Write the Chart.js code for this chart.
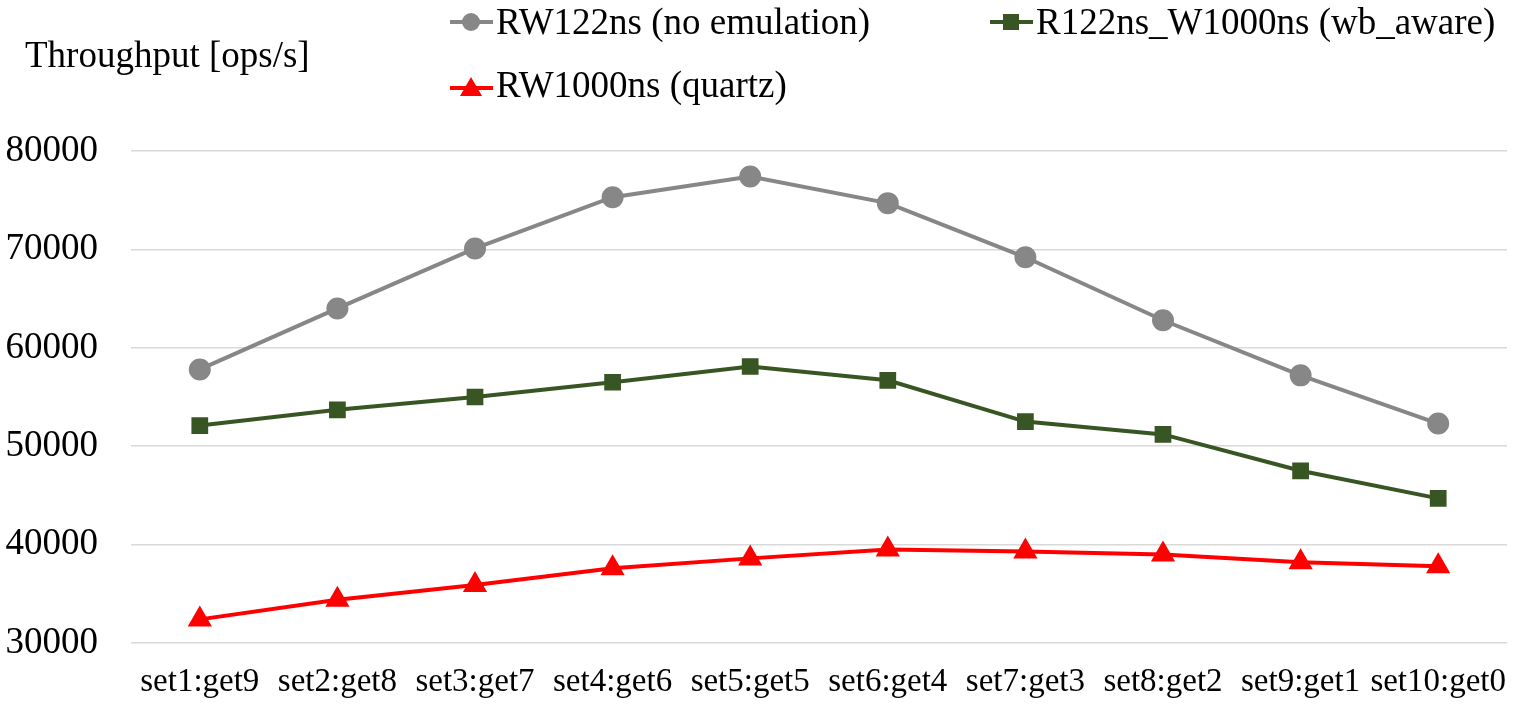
<!DOCTYPE html>
<html>
<head>
<meta charset="utf-8">
<script src="https://cdn.jsdelivr.net/npm/chart.js@4/dist/chart.umd.min.js"></script>
<style>
html,body{margin:0;padding:0;background:#fff;}
#wrap{width:1521px;height:708px;}
</style>
</head>
<body>
<div id="wrap"><canvas id="c" width="1521" height="708"></canvas></div>
<script>
const categories = ["set1:get9","set2:get8","set3:get7","set4:get6","set5:get5","set6:get4","set7:get3","set8:get2","set9:get1","set10:get0"];
const rwNoEmulation = [57800, 64000, 70100, 75300, 77400, 74700, 69200, 62800, 57200, 52300];
const wbAware = [52100, 53700, 55000, 56500, 58100, 56700, 52500, 51200, 47500, 44700];
const quartz = [32400, 34400, 35900, 37600, 38600, 39500, 39300, 39000, 38200, 37800];
const seriesNames = ["RW122ns (no emulation)", "R122ns_W1000ns (wb_aware)", "RW1000ns (quartz)"];
const yTicks = [30000, 40000, 50000, 60000, 70000, 80000];
const yTitle = "Throughput [ops/s]";

const FONT = "'Liberation Serif', 'Times New Roman', serif";

const legendPlugin = {
  id: 'customLegend',
  afterDraw(chart) {
    const ctx = chart.ctx;
    ctx.save();
    ctx.fillStyle = '#000';
    ctx.font = '37px ' + FONT;
    ctx.textBaseline = 'alphabetic';
    ctx.textAlign = 'left';
    ctx.fillText(yTitle, 25, 67);
    const items = [
      {ds: 0, x: 450, y: 22, base: 34},
      {ds: 1, x: 990, y: 22, base: 34},
      {ds: 2, x: 450, y: 88, base: 97}
    ];
    items.forEach(it => {
      const ds = chart.data.datasets[it.ds];
      ctx.strokeStyle = ds.borderColor;
      ctx.lineWidth = 4;
      ctx.beginPath();
      ctx.moveTo(it.x, it.y);
      ctx.lineTo(it.x + 43, it.y);
      ctx.stroke();
      const cx = it.x + 21;
      ctx.fillStyle = ds.pointBackgroundColor;
      if (ds.pointStyle === 'circle') {
        ctx.beginPath(); ctx.arc(cx, it.y, 9, 0, Math.PI*2); ctx.fill();
      } else if (ds.pointStyle === 'rect') {
        ctx.fillRect(cx - 8, it.y - 8, 16, 16);
      } else {
        ctx.beginPath();
        ctx.moveTo(cx, it.y - 11); ctx.lineTo(cx + 11, it.y + 8); ctx.lineTo(cx - 11, it.y + 8);
        ctx.closePath(); ctx.fill();
      }
      ctx.fillStyle = '#000';
      ctx.font = '37px ' + FONT;
      ctx.textAlign = 'left';
      ctx.textBaseline = 'alphabetic';
      ctx.fillText(ds.label, it.x + 46, it.base);
    });
    ctx.restore();
  }
};

new Chart(document.getElementById('c'), {
  type: 'line',
  data: {
    labels: categories,
    datasets: [
      {label: seriesNames[0], data: rwNoEmulation, borderColor: '#878787', backgroundColor: '#878787',
       pointBackgroundColor: '#878787', pointBorderColor: '#878787', pointStyle: 'circle', pointRadius: 9, borderWidth: 4},
      {label: seriesNames[1], data: wbAware, borderColor: '#375623', backgroundColor: '#375623',
       pointBackgroundColor: '#375623', pointBorderColor: '#375623', pointStyle: 'rect', pointRadius: 9, borderWidth: 4},
      {label: seriesNames[2], data: quartz, borderColor: '#ff0000', backgroundColor: '#ff0000',
       pointBackgroundColor: '#ff0000', pointBorderColor: '#ff0000', pointStyle: 'triangle', pointRadius: 10, borderWidth: 4}
    ]
  },
  options: {
    responsive: false,
    animation: false,
    layout: {padding: {top: 151, right: 11, left: 0, bottom: 1}},
    plugins: {legend: {display: false}, title: {display: false}, tooltip: {enabled: false}},
    elements: {line: {tension: 0}, point: {borderWidth: 0}},
    scales: {
      x: {
        offset: true,
        grid: {display: false, drawTicks: false},
        border: {display: false},
        ticks: {color: '#000', font: {family: FONT, size: 33}, padding: 20, maxRotation: 0, autoSkip: false},
        afterFit(scale) { scale.height = 64; scale.paddingLeft = 0; scale.paddingRight = 0; }
      },
      y: {
        min: 30000, max: 80000,
        afterBuildTicks(scale) { scale.ticks = yTicks.map(v => ({value: v})); },
        grid: {color: '#d9d9d9', lineWidth: 1.5, drawTicks: false},
        border: {display: false},
        ticks: {color: '#000', font: {family: FONT, size: 37}, padding: 33, callback: v => String(v)},
        afterFit(scale) { scale.width = 131; }
      }
    }
  },
  plugins: [legendPlugin]
});
</script>
</body>
</html>
